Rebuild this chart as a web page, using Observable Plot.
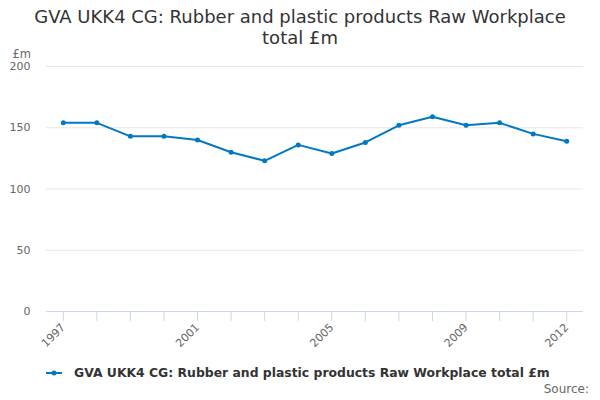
<!DOCTYPE html>
<html>
<head>
<meta charset="utf-8">
<script src="https://cdn.jsdelivr.net/npm/d3@7"></script>
<script src="https://cdn.jsdelivr.net/npm/@observablehq/plot@0.6"></script>
<style>
  body { margin: 0; width: 600px; height: 400px; position: relative; background: #fff; font-family: "DejaVu Sans", sans-serif; overflow: hidden; }
  #title { position: absolute; top: 6px; left: 0; width: 600px; text-align: center; font-size: 18px; line-height: 21px; color: #333; }
  #chart { position: absolute; top: 44px; left: 0; }
  #legend { position: absolute; top: 365px; left: 46px; font-size: 12.4px; font-weight: bold; color: #333; display: flex; align-items: center; white-space: nowrap; }
  #legend svg { margin-right: 12px; }
  #source { position: absolute; top: 382px; right: 11px; font-size: 12px; color: #666; }
</style>
</head>
<body>
<div id="title">GVA UKK4 CG: Rubber and plastic products Raw Workplace<br>total £m</div>
<div id="chart"></div>
<div id="legend"><svg width="16" height="10"><line x1="0" y1="5" x2="16" y2="5" stroke="#0079c1" stroke-width="2"/><circle cx="8" cy="5" r="2.5" fill="#0079c1"/></svg><span>GVA UKK4 CG: Rubber and plastic products Raw Workplace total £m</span></div>
<div id="source">Source:</div>
<script>
const years = [1997,1998,1999,2000,2001,2002,2003,2004,2005,2006,2007,2008,2009,2010,2011,2012];
const values = [154,154,143,143,140,130,123,136,129,138,152,159,152,154,145,139];
const labelYears = [1997,2001,2005,2009,2012];
const yTicks = [0,50,100,150,200];
const seriesName = "GVA UKK4 CG: Rubber and plastic products Raw Workplace total £m";

const data = years.map((y, i) => ({year: y, value: values[i]}));
const color = "#0079c1";

const plot = Plot.plot({
  width: 600,
  height: 308,
  marginTop: 22,
  marginBottom: 41,
  marginLeft: 46,
  marginRight: 17,
  style: {fontFamily: "DejaVu Sans, sans-serif", fontSize: "11px", color: "#666", background: "#fff", overflow: "visible"},
  x: {type: "linear", domain: [1996.5, 2012.5]},
  y: {domain: [0, 200]},
  marks: [
    Plot.gridY(yTicks, {stroke: "#e6e6e6", strokeOpacity: 1}),
    Plot.axisY({ticks: yTicks, tickSize: 0, tickPadding: 16, label: null, fill: "#666"}),
    Plot.text(["£m"], {frameAnchor: "top-left", dx: -34, dy: -17, fill: "#666", fontSize: 11.5, textAnchor: "start"}),
    Plot.ruleY([0], {stroke: "#ccd6eb"}),
    Plot.axisX({ticks: years, tickFormat: d => labelYears.includes(d) ? String(d) : "", tickSize: 10, tickRotate: -45, tickPadding: 4, stroke: "#ccd6eb", strokeOpacity: 1, fill: "#666", label: null}),
    Plot.line(data, {x: "year", y: "value", stroke: color, strokeWidth: 2}),
    Plot.dot(data, {x: "year", y: "value", fill: color, r: 2.5})
  ]
});
document.getElementById("chart").appendChild(plot);
</script>
</body>
</html>
